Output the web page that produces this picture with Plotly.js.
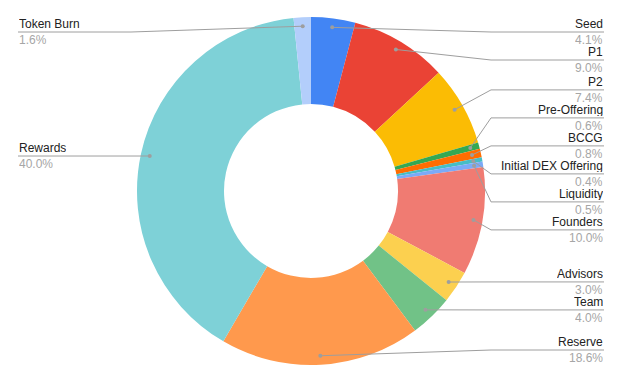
<!DOCTYPE html>
<html>
<head>
<meta charset="utf-8">
<script src="https://cdn.plot.ly/plotly-3.0.1.min.js"></script>
<style>html,body{margin:0;padding:0;background:#fff;}#chart{width:624px;height:385px;}</style>
</head>
<body>
<div id="chart"></div>
<script>
const labels = ["Seed", "P1", "P2", "Pre-Offering", "BCCG", "Initial DEX Offering", "Liquidity", "Founders", "Advisors", "Team", "Reserve", "Rewards", "Token Burn"];
const values = [4.1, 9.0, 7.4, 0.6, 0.8, 0.4, 0.5, 10.0, 3.0, 4.0, 18.6, 40.0, 1.6];
const colors = ["#4285F4", "#EA4335", "#FBBC04", "#34A853", "#FF6D01", "#46BDC6", "#7BAAF7", "#F07B72", "#FCD04F", "#71C287", "#FF994D", "#7ED1D7", "#B3CEFB"];

const W = 624, H = 385;
const cx = 311, cy = 191, R = 174;
const anchorR = 165;
const spacing = 28, topY = 32, botY = 350;
const rightX = 604, leftX = 18, elbowDX = 180;

const px = x => x / W;
const py = y => 1 - y / H;

const total = values.reduce((a, b) => a + b, 0);
let cum = 0;
const items = values.map((v, i) => {
  const mid = (cum + v / 2) / total * 2 * Math.PI;
  cum += v;
  const ax = cx + anchorR * Math.sin(mid);
  const ay = cy - anchorR * Math.cos(mid);
  return {i, ax, ay, side: ax >= cx ? 1 : -1};
});

function layoutSide(list) {
  list.sort((a, b) => a.ay - b.ay);
  let clusters = list.map(it => ({items: [it]}));
  const place = c => {
    const mean = c.items.reduce((s, it) => s + it.ay, 0) / c.items.length;
    const span = (c.items.length - 1) * spacing;
    let t = mean - span / 2;
    t = Math.max(topY, Math.min(botY - span, t));
    c.top = t; c.bottom = t + span;
  };
  clusters.forEach(place);
  let changed = true;
  while (changed) {
    changed = false;
    for (let k = 0; k < clusters.length - 1; k++) {
      if (clusters[k + 1].top < clusters[k].bottom + spacing) {
        const merged = {items: clusters[k].items.concat(clusters[k + 1].items)};
        place(merged);
        clusters.splice(k, 2, merged);
        changed = true;
        break;
      }
    }
  }
  clusters.forEach(c => c.items.forEach((it, j) => { it.ly = c.top + j * spacing; }));
}
layoutSide(items.filter(it => it.side === 1));
layoutSide(items.filter(it => it.side === -1));

const shapes = [], annotations = [];
const lineColor = "#9e9e9e";
const font = "Arial, 'Liberation Sans', sans-serif";
items.forEach(it => {
  const ex = cx + it.side * elbowDX;
  const endX = it.side === 1 ? rightX : leftX;
  shapes.push({
    type: "path", xref: "paper", yref: "paper",
    path: `M ${px(it.ax)},${py(it.ay)} L ${px(ex)},${py(it.ly)} L ${px(endX)},${py(it.ly)}`,
    line: {color: lineColor, width: 1}
  });
  const r = 2;
  shapes.push({
    type: "circle", xref: "paper", yref: "paper",
    x0: px(it.ax - r), x1: px(it.ax + r), y0: py(it.ay + r), y1: py(it.ay - r),
    fillcolor: lineColor, line: {width: 0}
  });
  const anchorX = it.side === 1 ? "right" : "left";
  const tx = it.side === 1 ? rightX : leftX;
  annotations.push({
    xref: "paper", yref: "paper", x: px(tx), y: py(it.ly - 8.5),
    xanchor: anchorX, yanchor: "middle", showarrow: false, borderpad: 0, height: 13,
    text: labels[it.i], font: {family: font, size: 12, color: "#222222"}
  });
  annotations.push({
    xref: "paper", yref: "paper", x: px(tx), y: py(it.ly + 7.5),
    xanchor: anchorX, yanchor: "middle", showarrow: false, borderpad: 0, height: 13,
    text: values[it.i].toFixed(1) + "%", font: {family: font, size: 12, color: "#a6a6a6"}
  });
});

const trace = {
  type: "pie",
  labels: labels,
  values: values,
  sort: false,
  direction: "clockwise",
  rotation: 0,
  hole: 0.5,
  textinfo: "none",
  marker: {colors: colors, line: {width: 0}},
  domain: {x: [px(cx - R), px(cx + R)], y: [py(cy + R), py(cy - R)]}
};

const layout = {
  width: W, height: H,
  margin: {l: 0, r: 0, t: 0, b: 0},
  showlegend: false,
  paper_bgcolor: "#ffffff",
  shapes: shapes,
  annotations: annotations
};

Plotly.newPlot("chart", [trace], layout, {displayModeBar: false, staticPlot: true});
</script>
</body>
</html>
